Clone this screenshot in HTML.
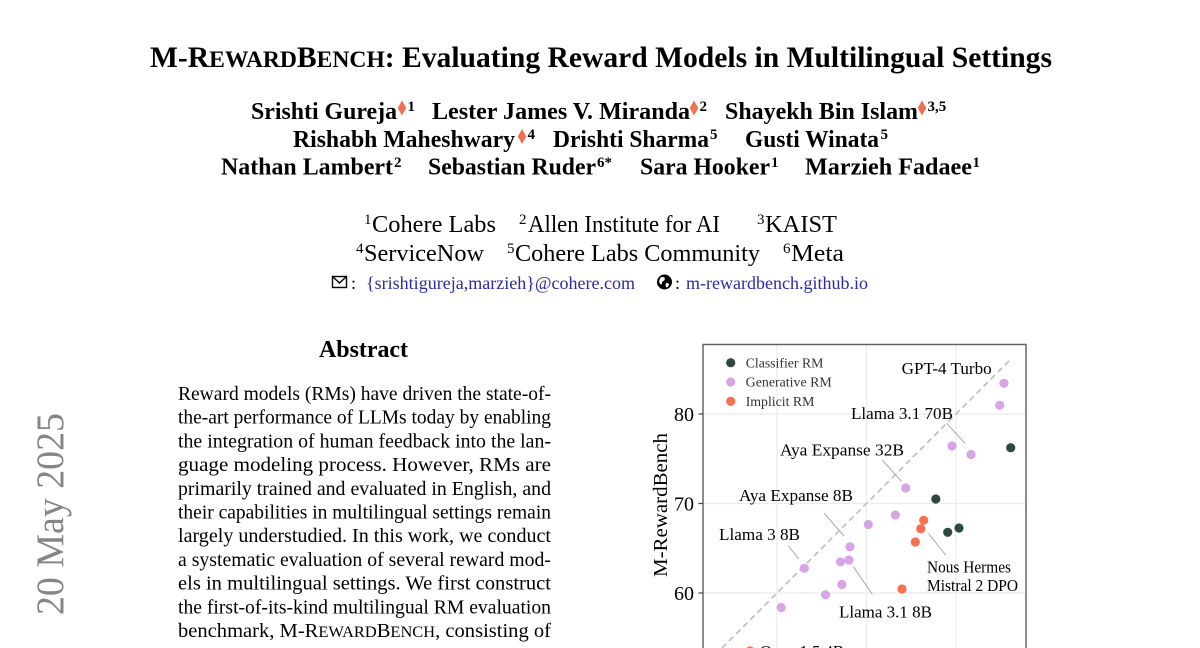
<!DOCTYPE html>
<html>
<head>
<meta charset="utf-8">
<style>
  html,body{margin:0;padding:0;background:#fff;width:1200px;height:648px;overflow:hidden;}
  svg{display:block;}
  text{font-family:"Liberation Serif","Times New Roman",serif;fill:#000;}
</style>
</head>
<body>
<svg width="1200" height="648" viewBox="0 0 1200 648" xmlns="http://www.w3.org/2000/svg">
  <defs>
    <clipPath id="pg"><rect x="0" y="0" width="1200" height="648"/></clipPath>
  </defs>
  <g clip-path="url(#pg)">
  <rect x="0" y="0" width="1200" height="648" fill="#fff"/>

  <!-- Title -->
  <text x="150" y="67" font-size="29.6" font-weight="bold" textLength="902" lengthAdjust="spacingAndGlyphs">M-R<tspan font-size="23.6">EWARD</tspan>B<tspan font-size="23.6">ENCH</tspan>: Evaluating Reward Models in Multilingual Settings</text>

  <!-- Authors -->
  <g font-weight="bold">
    <text x="251" y="119" font-size="23.8" font-weight="bold" textLength="146" lengthAdjust="spacingAndGlyphs">Srishti Gureja</text>
    <polygon points="402,100.5 406.3,108 402,115.5 397.7,108" fill="#f0714f"/>
    <text x="407.5" y="111" font-size="15" font-weight="bold">1</text>

    <text x="432" y="119" font-size="23.8" font-weight="bold" textLength="258" lengthAdjust="spacingAndGlyphs">Lester James V. Miranda</text>
    <polygon points="694,100.5 698.3,108 694,115.5 689.7,108" fill="#f0714f"/>
    <text x="699.5" y="111" font-size="15" font-weight="bold">2</text>

    <text x="725" y="119" font-size="23.8" font-weight="bold" textLength="193" lengthAdjust="spacingAndGlyphs">Shayekh Bin Islam</text>
    <polygon points="922,100.5 926.3,108 922,115.5 917.7,108" fill="#f0714f"/>
    <text x="927.5" y="111" font-size="15" font-weight="bold">3,5</text>

    <text x="293" y="147" font-size="23.8" font-weight="bold" textLength="222" lengthAdjust="spacingAndGlyphs">Rishabh Maheshwary</text>
    <polygon points="522,129 526.3,136.5 522,144 517.7,136.5" fill="#f0714f"/>
    <text x="527.5" y="139" font-size="15" font-weight="bold">4</text>

    <text x="553" y="147" font-size="23.8" font-weight="bold" textLength="156" lengthAdjust="spacingAndGlyphs">Drishti Sharma</text>
    <text x="710" y="139" font-size="15" font-weight="bold">5</text>

    <text x="745" y="147" font-size="23.8" font-weight="bold" textLength="134" lengthAdjust="spacingAndGlyphs">Gusti Winata</text>
    <text x="880.5" y="139" font-size="15" font-weight="bold">5</text>

    <text x="221" y="174.5" font-size="23.8" font-weight="bold" textLength="172" lengthAdjust="spacingAndGlyphs">Nathan Lambert</text>
    <text x="394" y="167" font-size="15" font-weight="bold">2</text>

    <text x="428" y="174.5" font-size="23.8" font-weight="bold" textLength="168" lengthAdjust="spacingAndGlyphs">Sebastian Ruder</text>
    <text x="597" y="167" font-size="15" font-weight="bold">6*</text>

    <text x="640" y="174.5" font-size="23.8" font-weight="bold" textLength="130" lengthAdjust="spacingAndGlyphs">Sara Hooker</text>
    <text x="771" y="167" font-size="15" font-weight="bold">1</text>

    <text x="805" y="174.5" font-size="23.8" font-weight="bold" textLength="167" lengthAdjust="spacingAndGlyphs">Marzieh Fadaee</text>
    <text x="972.5" y="167" font-size="15" font-weight="bold">1</text>
  </g>

  <!-- Affiliations -->
  <text x="364" y="224" font-size="15">1</text>
  <text x="372" y="232" font-size="23.8" textLength="124" lengthAdjust="spacingAndGlyphs">Cohere Labs</text>
  <text x="519" y="224" font-size="15">2</text>
  <text x="528" y="232" font-size="23.8" textLength="192" lengthAdjust="spacingAndGlyphs">Allen Institute for AI</text>
  <text x="757" y="224" font-size="15">3</text>
  <text x="765" y="232" font-size="23.8" textLength="72" lengthAdjust="spacingAndGlyphs">KAIST</text>

  <text x="356" y="253" font-size="15">4</text>
  <text x="364" y="261" font-size="23.8" textLength="120" lengthAdjust="spacingAndGlyphs">ServiceNow</text>
  <text x="507" y="253" font-size="15">5</text>
  <text x="515" y="261" font-size="23.8" textLength="245" lengthAdjust="spacingAndGlyphs">Cohere Labs Community</text>
  <text x="783" y="253" font-size="15">6</text>
  <text x="791" y="261" font-size="23.8" textLength="53" lengthAdjust="spacingAndGlyphs">Meta</text>

  <!-- Email / web line -->
  <g>
    <rect x="332.5" y="276.5" width="14" height="11" fill="none" stroke="#000" stroke-width="1.4"/>
    <polyline points="332.5,276.5 339.5,283 346.5,276.5" fill="none" stroke="#000" stroke-width="1.4"/>
    <text x="351" y="289" font-size="18">:</text>
    <text x="366" y="289" font-size="18" style="fill:#2b2ba8" textLength="269" lengthAdjust="spacingAndGlyphs">{srishtigureja,marzieh}@cohere.com</text>

    <circle cx="664.5" cy="282" r="7.5" fill="#000"/>
    <path d="M660.5,277.5 q2,-1 4,0 q1,2 -1,3.5 q-2,0.5 -1.5,3 q-1.5,1 -2.5,-1 q-1,-2 1,-5.5z" fill="#fff"/>
    <path d="M666,283 q2,-0.5 3,1.5 q-0.5,2.5 -2.5,3 q-1.5,-2 -0.5,-4.5z" fill="#fff"/>
    <text x="675" y="289" font-size="18">:</text>
    <text x="686" y="289" font-size="18" style="fill:#2b2ba8" textLength="182" lengthAdjust="spacingAndGlyphs">m-rewardbench.github.io</text>
  </g>

  <!-- arXiv stamp -->
  <text transform="translate(63,615) rotate(-90)" x="0" y="0" font-size="39" style="fill:#858585" textLength="202" lengthAdjust="spacingAndGlyphs">20 May 2025</text>
  <text transform="translate(63,646) rotate(-90)" x="0" y="0" font-size="39" text-anchor="end" style="fill:#858585">arXiv:2410.15522v3  [cs.CL]</text>

  <!-- Abstract -->
  <text x="319" y="357" font-size="23.8" font-weight="bold" textLength="89" lengthAdjust="spacingAndGlyphs">Abstract</text>
  <g>
    <text x="178" y="400" font-size="19.8" textLength="373" lengthAdjust="spacingAndGlyphs">Reward models (RMs) have driven the state-of-</text>
    <text x="178" y="423.7" font-size="19.8" textLength="373" lengthAdjust="spacingAndGlyphs">the-art performance of LLMs today by enabling</text>
    <text x="178" y="447.4" font-size="19.8" textLength="373" lengthAdjust="spacingAndGlyphs">the integration of human feedback into the lan-</text>
    <text x="178" y="471.1" font-size="19.8" textLength="373" lengthAdjust="spacingAndGlyphs">guage modeling process.  However, RMs are</text>
    <text x="178" y="494.8" font-size="19.8" textLength="373" lengthAdjust="spacingAndGlyphs">primarily trained and evaluated in English, and</text>
    <text x="178" y="518.5" font-size="19.8" textLength="373" lengthAdjust="spacingAndGlyphs">their capabilities in multilingual settings remain</text>
    <text x="178" y="542.2" font-size="19.8" textLength="373" lengthAdjust="spacingAndGlyphs">largely understudied. In this work, we conduct</text>
    <text x="178" y="565.9" font-size="19.8" textLength="373" lengthAdjust="spacingAndGlyphs">a systematic evaluation of several reward mod-</text>
    <text x="178" y="589.6" font-size="19.8" textLength="373" lengthAdjust="spacingAndGlyphs">els in multilingual settings. We first construct</text>
    <text x="178" y="613.3" font-size="19.8" textLength="373" lengthAdjust="spacingAndGlyphs">the first-of-its-kind multilingual RM evaluation</text>
    <text x="178" y="637" font-size="19.8" textLength="373" lengthAdjust="spacingAndGlyphs">benchmark, M-R<tspan font-size="15.8">EWARD</tspan>B<tspan font-size="15.8">ENCH</tspan>, consisting of</text>
  </g>

  <!-- Chart -->
  <g stroke="#ebebeb" stroke-width="1.2">
    <line x1="703" y1="414" x2="1026" y2="414"/>
    <line x1="703" y1="503.5" x2="1026" y2="503.5"/>
    <line x1="703" y1="593" x2="1026" y2="593"/>
    <line x1="777" y1="344" x2="777" y2="648"/>
    <line x1="866.5" y1="344" x2="866.5" y2="648"/>
    <line x1="956" y1="344" x2="956" y2="648"/>
  </g>
  <line x1="722" y1="648" x2="1011" y2="359" stroke="#bdbdbd" stroke-width="1.6" stroke-dasharray="6,4"/>

  <g stroke="#a8a8a8" stroke-width="1">
    <line x1="946.7" y1="423.3" x2="965" y2="443.3"/>
    <line x1="882.3" y1="460" x2="901.7" y2="481.7"/>
    <line x1="824.3" y1="513.3" x2="844" y2="536"/>
    <line x1="788.3" y1="545.5" x2="798.5" y2="559"/>
    <line x1="853.3" y1="566.7" x2="872.3" y2="594.3"/>
    <line x1="928.5" y1="533.5" x2="946" y2="555.5"/>
  </g>

  <!-- frame -->
  <polyline points="703,648 703,344.5 1026,344.5 1026,648" fill="none" stroke="#666" stroke-width="1.5"/>
  <g stroke="#444" stroke-width="1.2">
    <line x1="698.5" y1="414" x2="703" y2="414"/>
    <line x1="698.5" y1="503.5" x2="703" y2="503.5"/>
    <line x1="698.5" y1="593" x2="703" y2="593"/>
  </g>
  <text x="694" y="421" font-size="20" text-anchor="end">80</text>
  <text x="694" y="510.5" font-size="20" text-anchor="end">70</text>
  <text x="694" y="600" font-size="20" text-anchor="end">60</text>
  <text transform="translate(667,505) rotate(-90)" x="0" y="0" font-size="19.5" text-anchor="middle" textLength="144" lengthAdjust="spacingAndGlyphs">M-RewardBench</text>

  <!-- points -->
  <g fill="#d7a4e7">
    <circle cx="1004" cy="383.3" r="4.6"/>
    <circle cx="999.7" cy="405.3" r="4.6"/>
    <circle cx="952" cy="446" r="4.6"/>
    <circle cx="971" cy="454.5" r="4.6"/>
    <circle cx="905.7" cy="488" r="4.6"/>
    <circle cx="895.3" cy="515" r="4.6"/>
    <circle cx="868.3" cy="524.5" r="4.6"/>
    <circle cx="850" cy="546.8" r="4.6"/>
    <circle cx="840.5" cy="561.8" r="4.6"/>
    <circle cx="849" cy="560" r="4.6"/>
    <circle cx="804.3" cy="568.3" r="4.6"/>
    <circle cx="841.8" cy="584.5" r="4.6"/>
    <circle cx="825.5" cy="594.8" r="4.6"/>
    <circle cx="781.2" cy="607.5" r="4.6"/>
  </g>
  <g fill="#2d4a3c">
    <circle cx="1010.7" cy="447.7" r="4.6"/>
    <circle cx="935.8" cy="499" r="4.6"/>
    <circle cx="947.7" cy="532.3" r="4.6"/>
    <circle cx="959" cy="528" r="4.6"/>
  </g>
  <g fill="#f8704d">
    <circle cx="923.7" cy="520.3" r="4.6"/>
    <circle cx="920.7" cy="528.7" r="4.6"/>
    <circle cx="915.3" cy="542" r="4.6"/>
    <circle cx="902" cy="589" r="4.6"/>
    <circle cx="750" cy="651" r="4.6"/>
  </g>

  <!-- legend -->
  <circle cx="730.7" cy="362.7" r="4.6" fill="#2d4a3c"/>
  <circle cx="730.7" cy="382" r="4.6" fill="#d7a4e7"/>
  <circle cx="730.7" cy="401.3" r="4.6" fill="#f8704d"/>
  <text x="745.7" y="367.3" font-size="13.8" style="fill:#333" textLength="77.7" lengthAdjust="spacingAndGlyphs">Classifier RM</text>
  <text x="745.7" y="386.6" font-size="13.8" style="fill:#333" textLength="86" lengthAdjust="spacingAndGlyphs">Generative RM</text>
  <text x="745.7" y="405.9" font-size="13.8" style="fill:#333" textLength="68.7" lengthAdjust="spacingAndGlyphs">Implicit RM</text>

  <!-- labels -->
  <text x="901.7" y="374" font-size="16.7" textLength="90" lengthAdjust="spacingAndGlyphs">GPT-4 Turbo</text>
  <text x="851" y="419" font-size="16.7" textLength="102" lengthAdjust="spacingAndGlyphs">Llama 3.1 70B</text>
  <text x="780" y="455.5" font-size="16.7" textLength="124" lengthAdjust="spacingAndGlyphs">Aya Expanse 32B</text>
  <text x="739" y="501" font-size="16.7" textLength="114" lengthAdjust="spacingAndGlyphs">Aya Expanse 8B</text>
  <text x="719" y="540" font-size="16.7" textLength="81" lengthAdjust="spacingAndGlyphs">Llama 3 8B</text>
  <text x="927" y="572.5" font-size="16.7" textLength="84" lengthAdjust="spacingAndGlyphs">Nous Hermes</text>
  <text x="927" y="591" font-size="16.7" textLength="91" lengthAdjust="spacingAndGlyphs">Mistral 2 DPO</text>
  <text x="839" y="617.5" font-size="16.7" textLength="93" lengthAdjust="spacingAndGlyphs">Llama 3.1 8B</text>
  <text x="760" y="657" font-size="16.7" textLength="84" lengthAdjust="spacingAndGlyphs">Qwen1.5 4B</text>
  </g>
</svg>
</body>
</html>
